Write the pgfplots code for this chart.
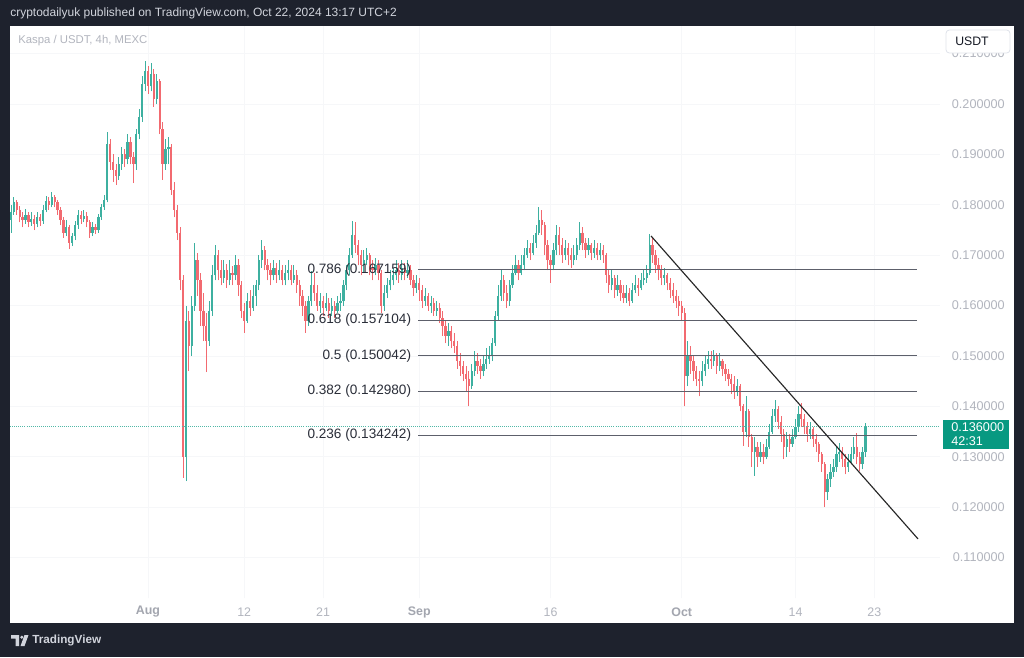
\documentclass[border=0pt]{standalone}
\usepackage{fontspec}
\setmainfont{Liberation Sans}
\usepackage{pgfplots}
\usepackage{pgfplotstable}
\pgfplotsset{compat=1.18}
\definecolor{framec}{HTML}{1E222D}
\definecolor{upc}{HTML}{3DB0A0}
\definecolor{downc}{HTML}{F26A70}
\definecolor{tickc}{HTML}{B2B5BE}
\definecolor{monthc}{HTML}{A3A6AF}
\definecolor{gridc}{HTML}{F6F7F9}
\definecolor{fibc}{HTML}{5D606B}
\definecolor{fibtext}{HTML}{2A2E39}
\definecolor{lastc}{HTML}{089981}
\definecolor{headc}{HTML}{D1D4DC}
\definecolor{boxb}{HTML}{E0E3EB}
\definecolor{darkt}{HTML}{131722}

\pgfplotstableread{
k o h l c
0 0.1770 0.1800 0.1745 0.1785
1 0.1785 0.1815 0.1780 0.1805
2 0.1805 0.1810 0.1780 0.1790
3 0.1790 0.1798 0.1765 0.1775
4 0.1775 0.1785 0.1755 0.1770
5 0.1770 0.1792 0.1762 0.1780
6 0.1780 0.1785 0.1755 0.1765
7 0.1765 0.1785 0.1758 0.1772
8 0.1772 0.1780 0.1750 0.1762
9 0.1762 0.1785 0.1755 0.1775
10 0.1775 0.1782 0.1758 0.1768
11 0.1768 0.1800 0.1762 0.1790
12 0.1790 0.1818 0.1785 0.1808
13 0.1808 0.1815 0.1790 0.1800
14 0.1800 0.1825 0.1795 0.1815
15 0.1815 0.1820 0.1795 0.1805
16 0.1805 0.1810 0.1780 0.1790
17 0.1790 0.1795 0.1760 0.1770
18 0.1770 0.1775 0.1735 0.1745
19 0.1745 0.1770 0.1738 0.1755
20 0.1755 0.1760 0.1712 0.1725
21 0.1725 0.1745 0.1718 0.1738
22 0.1738 0.1768 0.1730 0.1760
23 0.1760 0.1790 0.1752 0.1780
24 0.1780 0.1788 0.1762 0.1772
25 0.1772 0.1790 0.1765 0.1778
26 0.1778 0.1785 0.1755 0.1765
27 0.1765 0.1770 0.1735 0.1745
28 0.1745 0.1765 0.1738 0.1755
29 0.1755 0.1762 0.1742 0.1750
30 0.1750 0.1782 0.1745 0.1775
31 0.1775 0.1802 0.1770 0.1795
32 0.1795 0.1820 0.1790 0.1810
33 0.1810 0.1945 0.1805 0.1920
34 0.1920 0.1930 0.1870 0.1885
35 0.1885 0.1900 0.1845 0.1870
36 0.1870 0.1880 0.1840 0.1858
37 0.1858 0.1895 0.1850 0.1880
38 0.1880 0.1915 0.1870 0.1900
39 0.1900 0.1910 0.1875 0.1890
40 0.1890 0.1940 0.1880 0.1925
41 0.1925 0.1935 0.1880 0.1895
42 0.1895 0.1905 0.1843 0.1880
43 0.1880 0.1950 0.1870 0.1940
44 0.1940 0.1990 0.1930 0.1975
45 0.1975 0.2055 0.1965 0.2040
46 0.2040 0.2085 0.2025 0.2065
47 0.2065 0.2075 0.2020 0.2035
48 0.2035 0.2082 0.2025 0.2060
49 0.2060 0.2070 0.1995 0.2010
50 0.2010 0.2060 0.2000 0.2045
51 0.2045 0.2050 0.1940 0.1950
52 0.1950 0.1965 0.1850 0.1880
53 0.1880 0.1930 0.1870 0.1910
54 0.1910 0.1935 0.1880 0.1915
55 0.1915 0.1920 0.1820 0.1830
56 0.1830 0.1845 0.1775 0.1790
57 0.1790 0.1800 0.1730 0.1745
58 0.1745 0.1755 0.1630 0.1650
59 0.1650 0.1660 0.1258 0.1300
60 0.1300 0.1600 0.1252 0.1570
61 0.1570 0.1590 0.1470 0.1520
62 0.1520 0.1620 0.1500 0.1600
63 0.1600 0.1725 0.1590 0.1690
64 0.1690 0.1705 0.1620 0.1650
65 0.1650 0.1665 0.1560 0.1590
66 0.1590 0.1625 0.1530 0.1560
67 0.1560 0.1585 0.1468 0.1530
68 0.1530 0.1610 0.1520 0.1590
69 0.1590 0.1680 0.1580 0.1660
70 0.1660 0.1720 0.1650 0.1700
71 0.1700 0.1710 0.1650 0.1670
72 0.1670 0.1690 0.1640 0.1655
73 0.1655 0.1690 0.1645 0.1670
74 0.1670 0.1682 0.1635 0.1650
75 0.1650 0.1690 0.1640 0.1665
76 0.1665 0.1678 0.1640 0.1660
77 0.1660 0.1700 0.1650 0.1680
78 0.1680 0.1692 0.1620 0.1640
79 0.1640 0.1648 0.1575 0.1590
80 0.1590 0.1605 0.1546 0.1570
81 0.1570 0.1625 0.1565 0.1610
82 0.1610 0.1630 0.1580 0.1595
83 0.1595 0.1640 0.1590 0.1620
84 0.1620 0.1650 0.1600 0.1640
85 0.1640 0.1700 0.1630 0.1690
86 0.1690 0.1730 0.1675 0.1710
87 0.1710 0.1718 0.1670 0.1680
88 0.1680 0.1692 0.1650 0.1670
89 0.1670 0.1685 0.1640 0.1660
90 0.1660 0.1690 0.1650 0.1675
91 0.1675 0.1685 0.1645 0.1660
92 0.1660 0.1690 0.1650 0.1670
93 0.1670 0.1680 0.1640 0.1650
94 0.1650 0.1680 0.1640 0.1665
95 0.1665 0.1690 0.1650 0.1670
96 0.1670 0.1680 0.1640 0.1650
97 0.1650 0.1680 0.1645 0.1660
98 0.1660 0.1670 0.1625 0.1640
99 0.1640 0.1650 0.1600 0.1620
100 0.1620 0.1630 0.1580 0.1600
101 0.1600 0.1610 0.1546 0.1570
102 0.1570 0.1620 0.1560 0.1610
103 0.1610 0.1668 0.1600 0.1640
104 0.1640 0.1665 0.1610 0.1625
105 0.1625 0.1640 0.1590 0.1600
106 0.1600 0.1625 0.1585 0.1610
107 0.1610 0.1620 0.1580 0.1595
108 0.1595 0.1625 0.1590 0.1605
109 0.1605 0.1615 0.1575 0.1590
110 0.1590 0.1615 0.1580 0.1600
111 0.1600 0.1610 0.1575 0.1590
112 0.1590 0.1620 0.1585 0.1605
113 0.1605 0.1625 0.1590 0.1610
114 0.1610 0.1650 0.1600 0.1640
115 0.1640 0.1680 0.1630 0.1670
116 0.1670 0.1715 0.1660 0.1700
117 0.1700 0.1768 0.1695 0.1740
118 0.1740 0.1765 0.1705 0.1720
119 0.1720 0.1730 0.1680 0.1700
120 0.1700 0.1710 0.1660 0.1680
121 0.1680 0.1710 0.1665 0.1690
122 0.1690 0.1715 0.1680 0.1700
123 0.1700 0.1705 0.1660 0.1675
124 0.1675 0.1690 0.1650 0.1670
125 0.1670 0.1695 0.1660 0.1680
126 0.1680 0.1690 0.1650 0.1665
127 0.1665 0.1670 0.1585 0.1600
128 0.1600 0.1640 0.1590 0.1625
129 0.1625 0.1655 0.1615 0.1640
130 0.1640 0.1670 0.1630 0.1650
131 0.1650 0.1675 0.1640 0.1660
132 0.1660 0.1690 0.1650 0.1670
133 0.1670 0.1685 0.1645 0.1660
134 0.1660 0.1690 0.1650 0.1675
135 0.1675 0.1685 0.1650 0.1665
136 0.1665 0.1690 0.1655 0.1670
137 0.1670 0.1680 0.1640 0.1650
138 0.1650 0.1660 0.1620 0.1635
139 0.1635 0.1660 0.1625 0.1645
140 0.1645 0.1655 0.1610 0.1630
141 0.1630 0.1640 0.1595 0.1610
142 0.1610 0.1635 0.1600 0.1620
143 0.1620 0.1625 0.1590 0.1600
144 0.1600 0.1620 0.1585 0.1605
145 0.1605 0.1615 0.1580 0.1590
146 0.1590 0.1610 0.1580 0.1595
147 0.1595 0.1605 0.1565 0.1575
148 0.1575 0.1590 0.1540 0.1560
149 0.1560 0.1570 0.1525 0.1540
150 0.1540 0.1565 0.1520 0.1550
151 0.1550 0.1560 0.1515 0.1530
152 0.1530 0.1545 0.1505 0.1520
153 0.1520 0.1530 0.1475 0.1490
154 0.1490 0.1505 0.1460 0.1480
155 0.1480 0.1490 0.1450 0.1465
156 0.1465 0.1480 0.1430 0.1455
157 0.1455 0.1470 0.1400 0.1440
158 0.1440 0.1485 0.1435 0.1470
159 0.1470 0.1510 0.1460 0.1490
160 0.1490 0.1505 0.1465 0.1480
161 0.1480 0.1495 0.1455 0.1470
162 0.1470 0.1500 0.1460 0.1485
163 0.1485 0.1515 0.1475 0.1495
164 0.1495 0.1520 0.1485 0.1500
165 0.1500 0.1535 0.1490 0.1525
166 0.1525 0.1590 0.1520 0.1580
167 0.1580 0.1640 0.1570 0.1620
168 0.1620 0.1670 0.1610 0.1650
169 0.1650 0.1660 0.1610 0.1625
170 0.1625 0.1640 0.1595 0.1610
171 0.1610 0.1650 0.1600 0.1640
172 0.1640 0.1680 0.1635 0.1665
173 0.1665 0.1700 0.1660 0.1680
174 0.1680 0.1690 0.1650 0.1665
175 0.1665 0.1700 0.1660 0.1680
176 0.1680 0.1715 0.1670 0.1700
177 0.1700 0.1730 0.1695 0.1715
178 0.1715 0.1725 0.1690 0.1705
179 0.1705 0.1740 0.1700 0.1725
180 0.1725 0.1760 0.1715 0.1745
181 0.1745 0.1795 0.1740 0.1770
182 0.1770 0.1790 0.1740 0.1760
183 0.1760 0.1765 0.1700 0.1720
184 0.1720 0.1730 0.1670 0.1690
185 0.1690 0.1700 0.1645 0.1680
186 0.1680 0.1725 0.1670 0.1710
187 0.1710 0.1760 0.1700 0.1740
188 0.1740 0.1755 0.1700 0.1720
189 0.1720 0.1735 0.1685 0.1700
190 0.1700 0.1730 0.1690 0.1715
191 0.1715 0.1725 0.1680 0.1700
192 0.1700 0.1715 0.1675 0.1690
193 0.1690 0.1720 0.1680 0.1700
194 0.1700 0.1735 0.1690 0.1720
195 0.1720 0.1766 0.1710 0.1745
196 0.1745 0.1755 0.1710 0.1725
197 0.1725 0.1735 0.1695 0.1710
198 0.1710 0.1735 0.1700 0.1720
199 0.1720 0.1725 0.1690 0.1705
200 0.1705 0.1730 0.1695 0.1715
201 0.1715 0.1725 0.1690 0.1700
202 0.1700 0.1725 0.1690 0.1710
203 0.1710 0.1720 0.1685 0.1700
204 0.1700 0.1705 0.1645 0.1660
205 0.1660 0.1670 0.1625 0.1640
206 0.1640 0.1670 0.1630 0.1655
207 0.1655 0.1660 0.1615 0.1630
208 0.1630 0.1660 0.1620 0.1640
209 0.1640 0.1650 0.1610 0.1625
210 0.1625 0.1640 0.1605 0.1615
211 0.1615 0.1640 0.1605 0.1625
212 0.1625 0.1635 0.1600 0.1610
213 0.1610 0.1645 0.1605 0.1630
214 0.1630 0.1660 0.1625 0.1640
215 0.1640 0.1655 0.1620 0.1635
216 0.1635 0.1665 0.1630 0.1650
217 0.1650 0.1670 0.1640 0.1655
218 0.1655 0.1680 0.1645 0.1665
219 0.1665 0.1742 0.1660 0.1720
220 0.1720 0.1735 0.1685 0.1700
221 0.1700 0.1710 0.1665 0.1680
222 0.1680 0.1695 0.1650 0.1670
223 0.1670 0.1680 0.1640 0.1655
224 0.1655 0.1675 0.1640 0.1660
225 0.1660 0.1665 0.1630 0.1645
226 0.1645 0.1655 0.1615 0.1630
227 0.1630 0.1645 0.1605 0.1620
228 0.1620 0.1630 0.1595 0.1610
229 0.1610 0.1620 0.1580 0.1600
230 0.1600 0.1610 0.1570 0.1585
231 0.1585 0.1595 0.1400 0.1460
232 0.1460 0.1530 0.1440 0.1500
233 0.1500 0.1520 0.1465 0.1490
234 0.1490 0.1500 0.1450 0.1470
235 0.1470 0.1480 0.1440 0.1455
236 0.1455 0.1470 0.1420 0.1450
237 0.1450 0.1490 0.1440 0.1470
238 0.1470 0.1500 0.1460 0.1485
239 0.1485 0.1510 0.1475 0.1495
240 0.1495 0.1510 0.1475 0.1490
241 0.1490 0.1512 0.1480 0.1500
242 0.1500 0.1505 0.1465 0.1480
243 0.1480 0.1505 0.1470 0.1490
244 0.1490 0.1495 0.1460 0.1475
245 0.1475 0.1485 0.1450 0.1465
246 0.1465 0.1475 0.1440 0.1455
247 0.1455 0.1465 0.1425 0.1445
248 0.1445 0.1460 0.1415 0.1430
249 0.1430 0.1455 0.1420 0.1440
250 0.1440 0.1445 0.1390 0.1400
251 0.1400 0.1405 0.1322 0.1350
252 0.1350 0.1420 0.1340 0.1390
253 0.1390 0.1395 0.1320 0.1340
254 0.1340 0.1345 0.1280 0.1310
255 0.1310 0.1340 0.1262 0.1320
256 0.1320 0.1330 0.1280 0.1300
257 0.1300 0.1330 0.1290 0.1310
258 0.1310 0.1325 0.1285 0.1300
259 0.1300 0.1335 0.1295 0.1320
260 0.1320 0.1365 0.1315 0.1350
261 0.1350 0.1395 0.1345 0.1380
262 0.1380 0.1413 0.1370 0.1395
263 0.1395 0.1400 0.1355 0.1370
264 0.1370 0.1380 0.1330 0.1345
265 0.1345 0.1355 0.1295 0.1320
266 0.1320 0.1350 0.1300 0.1335
267 0.1335 0.1345 0.1310 0.1325
268 0.1325 0.1355 0.1320 0.1340
269 0.1340 0.1375 0.1335 0.1360
270 0.1360 0.1400 0.1350 0.1385
271 0.1385 0.1407 0.1360 0.1375
272 0.1375 0.1385 0.1345 0.1360
273 0.1360 0.1370 0.1330 0.1345
274 0.1345 0.1370 0.1335 0.1355
275 0.1355 0.1360 0.1320 0.1335
276 0.1335 0.1345 0.1310 0.1325
277 0.1325 0.1330 0.1290 0.1305
278 0.1305 0.1310 0.1270 0.1285
279 0.1285 0.1290 0.1200 0.1230
280 0.1230 0.1265 0.1215 0.1255
281 0.1255 0.1285 0.1240 0.1270
282 0.1270 0.1295 0.1260 0.1280
283 0.1280 0.1320 0.1270 0.1305
284 0.1305 0.1328 0.1290 0.1310
285 0.1310 0.1320 0.1280 0.1295
286 0.1295 0.1305 0.1265 0.1280
287 0.1280 0.1305 0.1270 0.1290
288 0.1290 0.1320 0.1285 0.1305
289 0.1305 0.1340 0.1295 0.1320
290 0.1320 0.1348 0.1285 0.1300
291 0.1300 0.1310 0.1272 0.1285
292 0.1285 0.1320 0.1275 0.1310
293 0.1310 0.1368 0.1300 0.1360
}\candles

\begin{document}
\begin{tikzpicture}
\fill[framec] (0,0) rectangle (768pt,-492.75pt);
\begin{scope}[x=0.75pt,y=-0.75pt]
\fill[white] (10,26) rectangle (1014,623);
\node[anchor=west, text=headc, font=\fontsize{9}{10}\selectfont, inner sep=0] at (10,13) {cryptodailyuk published on TradingView.com, Oct 22, 2024 13:17 UTC+2};
\end{scope}
\begin{axis}[
  at={(7.5pt,-448.5pt)}, anchor=south west,
  scale only axis, width=697.5pt, height=429pt,
  xmin=-15.77, xmax=90.51, ymin=0.101984, ymax=0.215476,
  axis line style={draw=none},
  major tick length=0pt,
  xtick={0,11,20,31,46,61,74,83},
  xticklabels={{\color{monthc}\bfseries Aug},12,21,{\color{monthc}\bfseries Sep},16,{\color{monthc}\bfseries Oct},14,23},
  ytick={0.11,0.12,0.13,0.14,0.15,0.16,0.17,0.18,0.19,0.20,0.21},
  yticklabels={0.110000,0.120000,0.130000,0.140000,0.150000,0.160000,0.170000,0.180000,0.190000,0.200000,0.210000},
  yticklabel pos=right,
  xticklabel style={font=\fontsize{9.3}{10}\selectfont, text=tickc, anchor=center, yshift=-10.5pt},
  yticklabel style={font=\fontsize{9.5}{10}\selectfont, text=tickc, anchor=east, inner sep=0pt, xshift=48.75pt},
  xmajorgrids, ymajorgrids,
  grid style={gridc, line width=0.6pt},
  clip=true,
]
% wicks
\addplot[upc, line width=0.6pt, quiver={u=0, v=\thisrow{h}-\thisrow{l}},
  restrict expr to domain={\thisrow{c}-\thisrow{o}}{0:1}, forget plot]
  table[x expr=(\thisrow{k}-47)/3, y=l] {\candles};
\addplot[downc, line width=0.6pt, quiver={u=0, v=\thisrow{h}-\thisrow{l}},
  restrict expr to domain={\thisrow{o}-\thisrow{c}}{0.00001:1}, forget plot]
  table[x expr=(\thisrow{k}-47)/3, y=l] {\candles};
% bodies
\addplot[upc, line width=1.7pt, quiver={u=0, v=\thisrow{c}-\thisrow{o}},
  restrict expr to domain={\thisrow{c}-\thisrow{o}}{0:1}, forget plot]
  table[x expr=(\thisrow{k}-47)/3, y=o] {\candles};
\addplot[downc, line width=1.7pt, quiver={u=0, v=\thisrow{c}-\thisrow{o}},
  restrict expr to domain={\thisrow{o}-\thisrow{c}}{0.00001:1}, forget plot]
  table[x expr=(\thisrow{k}-47)/3, y=o] {\candles};
% last price line
\addplot[lastc!70, densely dotted, line width=0.55pt, forget plot] coordinates {(-15.77,0.136) (90.51,0.136)};
% fib levels
\addplot[fibc, line width=0.9pt, forget plot] coordinates {(30.86,0.167159) (87.89,0.167159)};
\addplot[fibc, line width=0.9pt, forget plot] coordinates {(30.86,0.157104) (87.89,0.157104)};
\addplot[fibc, line width=0.9pt, forget plot] coordinates {(30.86,0.150042) (87.89,0.150042)};
\addplot[fibc, line width=0.9pt, forget plot] coordinates {(30.86,0.142980) (87.89,0.142980)};
\addplot[fibc, line width=0.9pt, forget plot] coordinates {(30.86,0.134242) (87.89,0.134242)};
\begin{scope}[every node/.style={anchor=east, inner sep=0pt, text=fibtext, font=\fontsize{10.2}{12}\selectfont}]
\node at (axis cs:30.1,0.167159) {0.786 (0.167159)};
\node at (axis cs:30.1,0.157104) {0.618 (0.157104)};
\node at (axis cs:30.1,0.150042) {0.5 (0.150042)};
\node at (axis cs:30.1,0.142980) {0.382 (0.142980)};
\node at (axis cs:30.1,0.134242) {0.236 (0.134242)};
\end{scope}
% trend line
\addplot[black!85, line width=0.85pt, forget plot] coordinates {(57.49,0.17381) (88.0,0.1137)};
\end{axis}
\begin{scope}[x=0.75pt,y=-0.75pt]
\node[anchor=west, text=tickc, font=\fontsize{8.5}{10}\selectfont, inner sep=0] at (18,41) {Kaspa / USDT, 4h, MEXC};
\draw[boxb, fill=white, rounded corners=2.5pt, line width=0.6pt] (946,30) rectangle (1010,53);
\node[anchor=west, inner sep=0, font=\fontsize{9.2}{10}\selectfont, text=darkt] at (955,41.5) {USDT};
\fill[lastc] (943,420) rectangle (1009,449);
\node[anchor=west, inner sep=0, font=\fontsize{9.5}{10}\selectfont, text=white] at (951,427.5) {0.136000};
\node[anchor=west, inner sep=0, font=\fontsize{9.5}{10}\selectfont, text=white] at (951,441.5) {42:31};
% footer logo
\fill[headc] (11,635) -- (19,635) -- (19,646) -- (15.5,646) -- (15.5,638.5) -- (11,638.5) -- cycle;
\fill[headc] (21.8,637.2) circle (1.7);
\fill[headc] (24.5,635) -- (28.5,635) -- (24.5,646) -- (20.5,646) -- cycle;
\node[anchor=west, inner sep=0, font=\bfseries\fontsize{8.8}{10}\selectfont, text=headc] at (32,640.5) {TradingView};
\end{scope}
\pgfresetboundingbox
\path (0,0) rectangle (768pt,-492.75pt);
\end{tikzpicture}
\end{document}
